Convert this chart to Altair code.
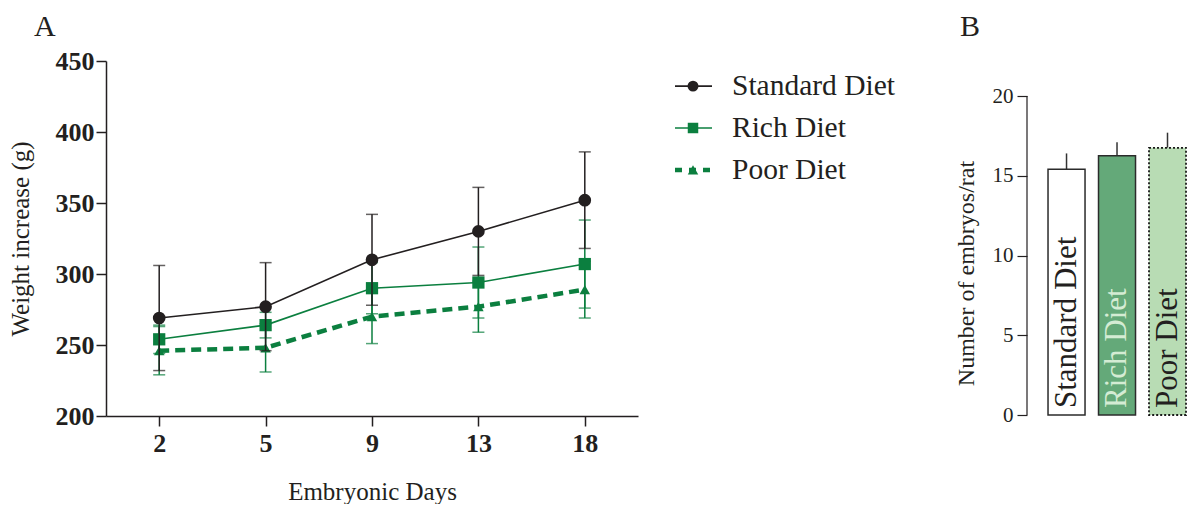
import altair as alt
import pandas as pd

days = ["2", "5", "9", "13", "18"]
series = ["Standard Diet", "Rich Diet", "Poor Diet"]
std_mean = [269, 277, 310, 330, 352]
std_err = [37, 31, 32, 31, 34]
rich_mean = [254, 264, 290, 294, 307]
rich_err = [10, 9, 18, 25, 31]
poor_mean = [246, 248, 270, 277, 289]
poor_err = [17, 17, 19, 18, 20]

bar_groups = ["Standard Diet", "Rich Diet", "Poor Diet"]
bar_mean = [15.4, 16.25, 16.75]
bar_err = [1.0, 0.85, 0.95]

BLACK = "#231f20"
GREEN = "#0b7f3f"
SERIF = "Liberation Serif"

rows = []
for name, m, e in [("Standard Diet", std_mean, std_err), ("Rich Diet", rich_mean, rich_err), ("Poor Diet", poor_mean, poor_err)]:
    for d, mv, ev in zip(days, m, e):
        rows.append({"day": d, "series": name, "mean": mv, "lo": mv - ev, "hi": mv + ev})
df = pd.DataFrame(rows)

xenc = alt.X("day:O", sort=days, title="Embryonic Days",
             scale=alt.Scale(type="point", padding=0.5),
             axis=alt.Axis(labelAngle=0, labelFont=SERIF, labelFontSize=26, labelFontWeight="bold",
                           labelColor=BLACK, titleFont=SERIF, titleFontSize=25, titleFontWeight="normal",
                           titleColor=BLACK, titlePadding=23, tickSize=10, tickColor=BLACK, tickWidth=1.5,
                           domainColor=BLACK, domainWidth=1.5, labelPadding=4, grid=False))
yscale = alt.Scale(domain=[200, 450], nice=False, zero=False)
yaxis = alt.Axis(values=[200, 250, 300, 350, 400, 450], labelFont=SERIF, labelFontSize=26,
                 labelFontWeight="bold", labelColor=BLACK, titleFont=SERIF, titleFontSize=25,
                 titleFontWeight="normal", titleColor=BLACK, titlePadding=22, tickSize=10,
                 tickColor=BLACK, tickWidth=1.5, domainColor=BLACK, domainWidth=1.5, labelPadding=2, grid=False)

base = alt.Chart(df)

def layer_for(name, width, dash, shape, size):
    d = base.transform_filter(alt.datum.series == name)
    col = BLACK if name == "Standard Diet" else GREEN
    rule = d.mark_rule(color=col, strokeWidth=1.5).encode(
        x=xenc, y=alt.Y("lo:Q", scale=yscale, axis=yaxis, title="Weight increase (g)"), y2="hi:Q")
    caps_hi = d.mark_tick(color=col, thickness=1.5, size=12).encode(x=xenc, y=alt.Y("hi:Q", scale=yscale))
    caps_lo = d.mark_tick(color=col, thickness=1.5, size=12).encode(x=xenc, y=alt.Y("lo:Q", scale=yscale))
    lk = dict(color=col, strokeWidth=width)
    if dash:
        lk["strokeDash"] = dash
    line = d.mark_line(**lk).encode(x=xenc, y=alt.Y("mean:Q", scale=yscale))
    pts = d.mark_point(shape=shape, filled=True, opacity=1, color=col, size=size).encode(
        x=xenc, y=alt.Y("mean:Q", scale=yscale))
    return [rule, caps_hi, caps_lo, line, pts]

layers = []
layers += layer_for("Poor Diet", 4.5, [10, 6], "triangle-up", 110)
layers += layer_for("Rich Diet", 1.6, None, "square", 150)
layers += layer_for("Standard Diet", 1.6, None, "circle", 160)

panelA = alt.layer(*layers).properties(
    width=532, height=355,
    title=alt.TitleParams("A", anchor="start", frame="group", font=SERIF, fontSize=30,
                          fontWeight="normal", color=BLACK, dx=-72, offset=6)
)

# legend panel
leg = pd.DataFrame({"series": series})
ly = alt.Y("series:N", sort=series, axis=None, scale=alt.Scale(type="point", padding=0.6))
lbase = alt.Chart(leg)
leg_std = lbase.transform_filter(alt.datum.series == "Standard Diet")
leg_rich = lbase.transform_filter(alt.datum.series == "Rich Diet")
leg_poor = lbase.transform_filter(alt.datum.series == "Poor Diet")
legend_panel = alt.layer(
    leg_std.mark_rule(color=BLACK, strokeWidth=1.6).encode(x=alt.value(37), x2=alt.value(74), y=ly),
    leg_rich.mark_rule(color=GREEN, strokeWidth=1.6).encode(x=alt.value(37), x2=alt.value(74), y=ly),
    leg_poor.mark_rule(color=GREEN, strokeWidth=4.5, strokeDash=[7, 7]).encode(x=alt.value(37), x2=alt.value(78), y=ly),
    leg_std.mark_point(shape="circle", filled=True, opacity=1, color=BLACK, size=120).encode(x=alt.value(55), y=ly),
    leg_rich.mark_point(shape="square", filled=True, opacity=1, color=GREEN, size=110).encode(x=alt.value(55), y=ly),
    leg_poor.mark_point(shape="triangle-up", filled=True, opacity=1, color=GREEN, size=110).encode(x=alt.value(55), y=ly),
    lbase.mark_text(align="left", baseline="middle", font=SERIF, fontSize=29.5, color=BLACK).encode(
        x=alt.value(94), y=ly, text="series:N"),
).properties(width=316, height=134)

# panel B
BMAX = 20 * 354 / 319
bdf = pd.DataFrame({"group": bar_groups, "mean": bar_mean,
                    "top": [m + e for m, e in zip(bar_mean, bar_err)], "zero": [0, 0, 0]})
bx = alt.X("group:N", sort=bar_groups, axis=None,
           scale=alt.Scale(paddingInner=0.267, paddingOuter=0.218, align=0.955))
by_scale = alt.Scale(domain=[0, BMAX], nice=False)
by_axis = alt.Axis(values=[0, 5, 10, 15, 20], labelFont=SERIF, labelFontSize=21, labelColor=BLACK,
                   titleFont=SERIF, titleFontSize=24, titleFontWeight="normal", titleColor=BLACK,
                   tickSize=10, tickColor=BLACK, tickWidth=1.2, domain=False,
                   labelPadding=4, titlePadding=14, titleY=212, titleAlign="center", grid=False)
bbase = alt.Chart(bdf)
fills = alt.Scale(domain=bar_groups, range=["#ffffff", "#64a979", "#b8dcb4"])
axis_line = alt.Chart(pd.DataFrame({"a": [0], "b": [20]})).mark_rule(color=BLACK, strokeWidth=1.2).encode(
    x=alt.value(0), y=alt.Y("a:Q", scale=by_scale), y2="b:Q")
err = bbase.mark_rule(color="#333333", strokeWidth=1.5).encode(
    x=bx, y=alt.Y("mean:Q", scale=by_scale), y2="top:Q")
bars_solid = bbase.transform_filter(alt.datum.group != "Poor Diet").mark_bar(
    stroke="#2b2b2b", strokeWidth=1.5).encode(
    x=bx, y=alt.Y("mean:Q", scale=by_scale, axis=by_axis, title="Number of embryos/rat"),
    fill=alt.Fill("group:N", scale=fills, legend=None))
bars_dot = bbase.transform_filter(alt.datum.group == "Poor Diet").mark_bar(
    stroke="#1a1a1a", strokeWidth=1.8, strokeDash=[2, 2]).encode(
    x=bx, y=alt.Y("mean:Q", scale=by_scale),
    fill=alt.Fill("group:N", scale=fills, legend=None))
btext = bbase.mark_text(angle=270, align="left", baseline="middle", font=SERIF, fontSize=31, dx=7).encode(
    x=bx, y=alt.Y("zero:Q", scale=by_scale), text="group:N",
    color=alt.Color("group:N", scale=alt.Scale(domain=bar_groups, range=[BLACK, "#d4ecd4", BLACK]), legend=None))
panelB = alt.layer(axis_line, err, bars_solid, bars_dot, btext).properties(
    width=160, height=354,
    title=alt.TitleParams("B", anchor="start", frame="group", font=SERIF, fontSize=30,
                          fontWeight="normal", color=BLACK, dx=-67, offset=19)
)

chart = alt.hconcat(panelA, legend_panel, panelB, spacing=0).resolve_scale(
    color="independent", fill="independent", y="independent", x="independent"
).properties(
    padding={"left": 8, "top": 12, "right": 0, "bottom": 0}
).configure_view(stroke=None, strokeWidth=0)

chart.save("out.html", embed_options={"renderer": "svg", "actions": False})
